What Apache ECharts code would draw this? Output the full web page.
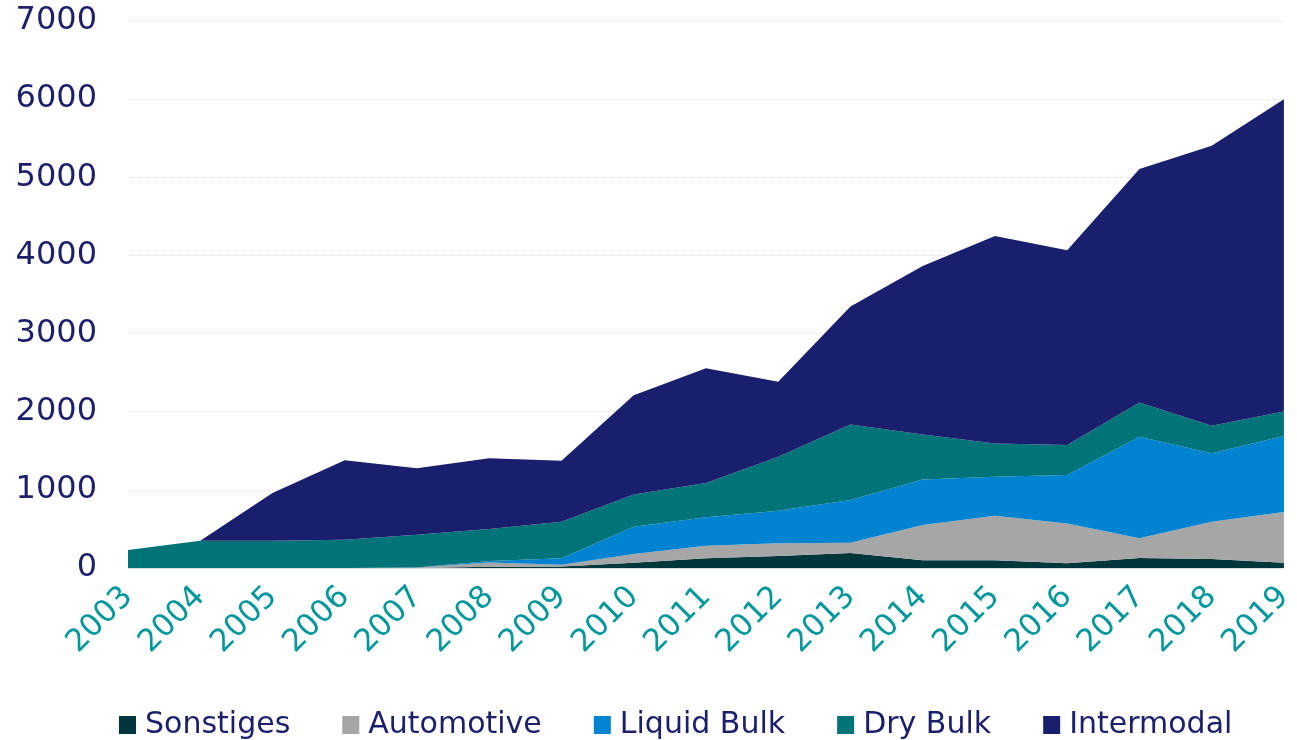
<!DOCTYPE html>
<html>
<head>
    <meta charset="utf-8">
    <title>Stacked area</title>
    <script src="https://cdn.jsdelivr.net/npm/echarts@6/dist/echarts.min.js"></script>
    <style>
        html, body { margin: 0; padding: 0; background: #fff; }
    </style>
</head>
<body>
    <div id="main" style="width: 1297px; height: 740px;"></div>

    <script>
        // years on the x axis
        var years = ['2003', '2004', '2005', '2006', '2007', '2008', '2009', '2010', '2011',
            '2012', '2013', '2014', '2015', '2016', '2017', '2018', '2019'];

        // values (stacked, bottom to top)
        var sonstiges  = [0, 0, 0, 0, 0, 17, 20, 68, 124, 153, 192, 98, 98, 60, 128, 115, 68];
        var automotive = [0, 0, 0, 0, 5, 53, 22, 112, 161, 163, 132, 452, 571, 511, 252, 477, 648];
        var liquidBulk = [0, 0, 0, 0, 0, 20, 82, 348, 363, 417, 546, 584, 499, 618, 1299, 875, 972];
        var dryBulk    = [230, 350, 350, 360, 420, 410, 468, 414, 439, 690, 967, 576, 426, 384, 440, 353, 316];
        var intermodal = [0, 0, 610, 1020, 850, 906, 780, 1268, 1468, 959, 1508, 2156, 2655, 2493, 2987, 3585, 3996];

        var seriesNames = ['Sonstiges', 'Automotive', 'Liquid Bulk', 'Dry Bulk', 'Intermodal'];
        var seriesData = [sonstiges, automotive, liquidBulk, dryBulk, intermodal];
        var colors = ['#00373C', '#A6A6A6', '#0083D0', '#007478', '#1A1F6D'];

        var myChart = echarts.init(document.getElementById('main'));

        var option = {
            animation: false,
            color: colors,
            grid: {
                left: 128,
                right: 7,
                top: 21,
                bottom: 172
            },
            legend: {
                data: seriesNames,
                top: 705,
                left: 114,
                itemWidth: 17,
                itemHeight: 18,
                itemGap: 52,
                icon: 'rect',
                textStyle: {
                    color: '#1B1F6C',
                    fontSize: 30,
                    fontFamily: 'DejaVu Sans',
                    padding: [0, 0, 0, 4]
                }
            },
            xAxis: {
                type: 'category',
                data: years,
                boundaryGap: false,
                axisLine: { lineStyle: { color: '#d8e4e4', width: 1 } },
                axisTick: { show: false },
                axisLabel: {
                    rotate: 45,
                    margin: 24,
                    color: '#00979C',
                    fontSize: 31,
                    fontFamily: 'DejaVu Sans'
                }
            },
            yAxis: {
                type: 'value',
                min: 0,
                max: 7000,
                interval: 1000,
                axisLine: { show: false },
                axisTick: { show: false },
                splitLine: {
                    lineStyle: { color: '#dedede', type: 'dotted', width: 1 }
                },
                axisLabel: {
                    margin: 31,
                    color: '#1B1F6C',
                    fontSize: 32,
                    fontFamily: 'DejaVu Sans',
                    formatter: function (v) { return String(v); }
                }
            },
            series: seriesNames.map(function (name, i) {
                return {
                    name: name,
                    type: 'line',
                    stack: 'total',
                    data: seriesData[i],
                    showSymbol: false,
                    symbol: 'none',
                    lineStyle: { width: 0 },
                    areaStyle: { color: colors[i], opacity: 1 }
                };
            })
        };

        myChart.setOption(option);
    </script>
</body>
</html>
